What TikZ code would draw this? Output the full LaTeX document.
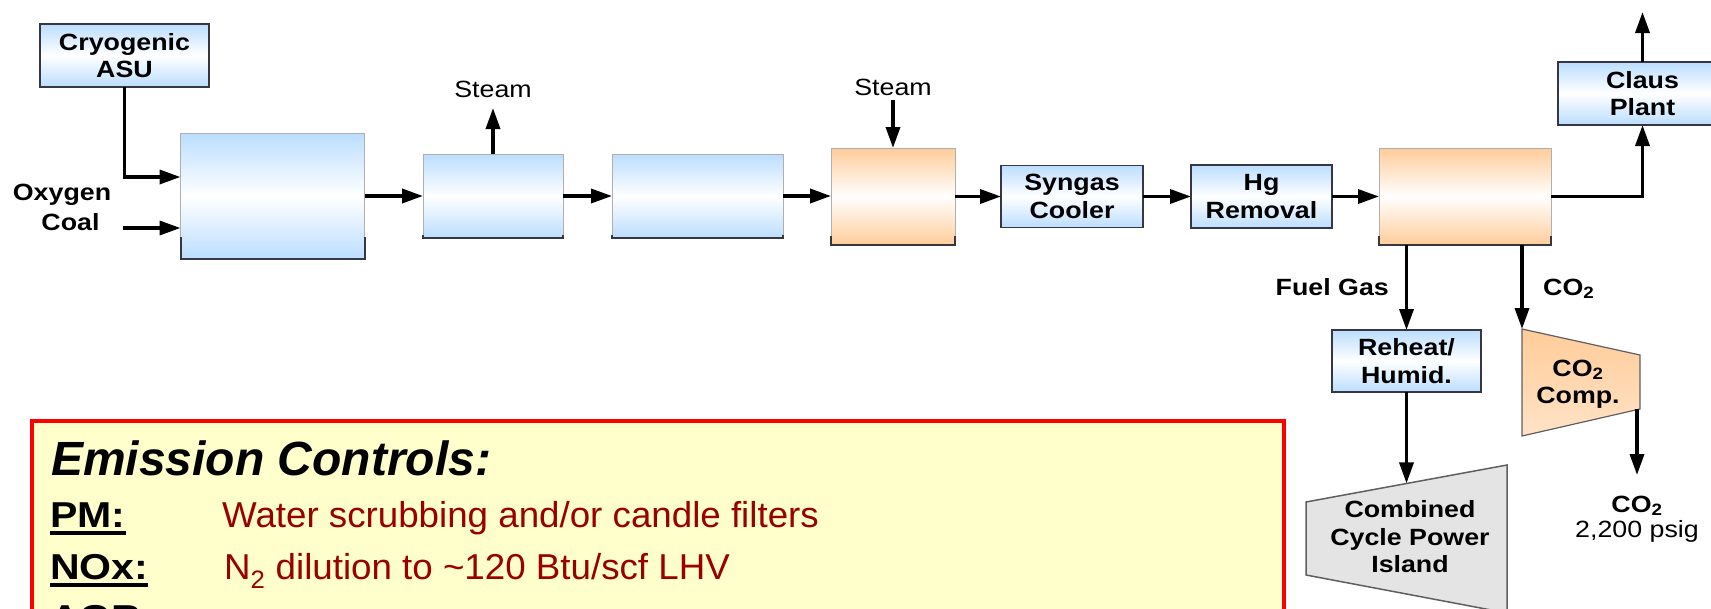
\documentclass[tikz,border=0pt]{standalone}
\usepackage{fontspec}
\newfontfamily\dfont[FakeStretch=1.14]{Liberation Sans}
\newfontfamily\rfont[FakeStretch=1.02]{Liberation Sans}
\newfontfamily\hfont{Liberation Sans}
\usetikzlibrary{arrows.meta}
\definecolor{bluebox}{RGB}{187,221,255}
\definecolor{orangebox}{RGB}{255,204,153}
\definecolor{edgedark}{RGB}{55,55,65}
\definecolor{edgelight}{RGB}{175,175,175}
\definecolor{notefill}{RGB}{255,255,204}
\definecolor{notered}{RGB}{255,0,0}
\definecolor{notetext}{RGB}{153,0,0}
\definecolor{ccgray}{RGB}{228,228,228}
\definecolor{ccedge}{RGB}{95,95,95}
\tikzset{
  lbl/.style={font=\dfont\bfseries\fontsize{23.5}{27.5}\selectfont, align=center, inner sep=0pt},
  plainlbl/.style={font=\dfont\fontsize{23.5}{27.5}\selectfont, align=center, inner sep=0pt},
  bluefill/.style={rectangle, inner sep=0pt, outer sep=0pt, top color=bluebox, bottom color=bluebox, middle color=white},
  orangefill/.style={rectangle, inner sep=0pt, outer sep=0pt, top color=orangebox, bottom color=orangebox, middle color=white},
  framed/.style={draw=edgedark, line width=1.5pt},
  openbox/.style={draw=edgelight, line width=0.8pt},
  shadowline/.style={draw=edgedark, line width=2pt},
  arr/.style={line width=3.5pt, -{Triangle[length=21pt,width=14pt]}},
  notelabel/.style={font=\dfont\bfseries\fontsize{36}{40}\selectfont, inner sep=0pt, anchor=base west},
  notetxt/.style={font=\rfont\fontsize{36}{40}\selectfont, text=notetext, inner sep=0pt, anchor=base west},
}
\begin{document}
\begin{tikzpicture}[x=1pt,y=-1pt]
\useasboundingbox (0,0) rectangle (1711,608);
\clip (0,0) rectangle (1711,608);

% ---------- process boxes ----------
\node[bluefill, framed, minimum width=169pt, minimum height=63pt, lbl] (asu) at (124.5,55.5) {Cryogenic\\ASU};
\node[bluefill, openbox, minimum width=184pt, minimum height=126pt] (gas) at (272.5,196) {};
\draw[shadowline] ([yshift=22pt]gas.south west) -- (gas.south west) -- (gas.south east) -- ([yshift=22pt]gas.south east);
\node[bluefill, openbox, minimum width=140pt, minimum height=84pt] (b2) at (493,196) {};
\draw[shadowline] ([yshift=3pt]b2.south west) -- (b2.south west) -- (b2.south east) -- ([yshift=3pt]b2.south east);
\node[bluefill, openbox, minimum width=171pt, minimum height=84pt] (b3) at (697.5,196) {};
\draw[shadowline] ([yshift=3pt]b3.south west) -- (b3.south west) -- (b3.south east) -- ([yshift=3pt]b3.south east);
\node[orangefill, openbox, minimum width=124pt, minimum height=97pt] (b4) at (893,196.5) {};
\draw[shadowline] ([yshift=9pt]b4.south west) -- (b4.south west) -- (b4.south east) -- ([yshift=9pt]b4.south east);
\node[bluefill, framed, minimum width=142pt, minimum height=62pt, lbl] (syn) at (1072,196.5) {Syngas\\Cooler};
\node[bluefill, framed, minimum width=141pt, minimum height=63pt, lbl] (hg) at (1261.5,196.5) {Hg\\Removal};
\node[orangefill, openbox, minimum width=172pt, minimum height=97pt] (agr) at (1465,196.5) {};
\draw[shadowline] ([yshift=9pt]agr.south west) -- (agr.south west) -- (agr.south east) -- ([yshift=9pt]agr.south east);
\node[bluefill, framed, minimum width=169pt, minimum height=63pt, lbl] (claus) at (1642.5,93.5) {Claus\\Plant};
\node[bluefill, framed, minimum width=149pt, minimum height=62pt, lbl] (reheat) at (1406.5,361) {Reheat/\\Humid.};

% CO2 compressor
\coordinate (c1) at (1522,329);
\coordinate (c2) at (1640,355);
\coordinate (c3) at (1640,409);
\coordinate (c4) at (1522,436);
\draw[draw=ccedge, line width=1.2pt, top color=orangebox, bottom color=orangebox!55] (c1) -- (c2) -- (c3) -- (c4) -- cycle;
\node[lbl] (comp) at (1578,384) {CO\textsubscript{2}\\Comp.};

% combined cycle
\coordinate (k1) at (1306,502);
\coordinate (k2) at (1507,465);
\coordinate (k3) at (1507,613);
\coordinate (k4) at (1306,575);
\draw[draw=ccedge, line width=1.5pt, fill=ccgray] (k1) -- (k2) -- (k3) -- (k4) -- cycle;
\node[lbl] (cc) at (1410,537) {Combined\\Cycle Power\\Island};
\coordinate (cctop) at (1406.5,483.4);

% ---------- labels ----------
\node[lbl, anchor=base] (oxy) at (62,200) {Oxygen};
\node[lbl, anchor=base] (coal) at (70.5,230) {Coal};
\coordinate (coalin) at (123,228);
\node[plainlbl, anchor=base] (steam1) at (493,97) {Steam};
\coordinate (steam1tip) at (493,108);
\node[plainlbl, anchor=base] (steam2) at (893,95) {Steam};
\coordinate (steam2in) at (893,100);
\coordinate (clausout) at (1642.5,12);
\node[lbl, anchor=base east] (fuel) at (1389,295) {Fuel Gas};
\node[lbl, anchor=base west] (co2a) at (1543,295) {CO\textsubscript{2}};
\coordinate (compout) at (1637,409);
\coordinate (co2end) at (1637,475);
\node[lbl, anchor=base] (co2b) at (1637,512) {CO\textsubscript{2}};
\node[plainlbl, anchor=base] (psig) at (1637,537) {2,200 psig};

% ---------- connectors ----------
\draw[arr] (asu.south) |- ([yshift=19pt]gas.west);
\draw[arr] (coalin) -- (coalin -| gas.west);
\draw[arr] (gas.east |- b2.west) -- (b2.west);
\draw[arr] (b2.east) -- (b3.west);
\draw[arr] (b3.east) -- (b3.east -| b4.west);
\draw[arr] (b4.east) -- (b4.east -| syn.west);
\draw[arr] (syn.east) -- (hg.west);
\draw[arr] (hg.east) -- (hg.east -| agr.west);
\draw[arr] (agr.east) -| (claus.south);
\draw[arr] (claus.north) -- (clausout);
\draw[arr] (b2.north) -- (steam1tip);
\draw[arr] (steam2in) -- (b4.north);
\draw[arr] (reheat.north |- agr.south) -- (reheat.north);
\draw[arr] (c1 |- agr.south) -- (c1);
\draw[arr] (reheat.south) -- (cctop);
\draw[arr] (compout) -- (co2end);

% ---------- emission controls note ----------
\node[draw=notered, line width=4pt, fill=notefill, minimum width=1252.5pt, minimum height=240pt, anchor=north west, inner sep=0pt] (note) at (29.5,419) {};
\node[font=\hfont\bfseries\itshape\fontsize{48}{52}\selectfont, inner sep=0pt, anchor=base west] (head) at (51,475) {Emission Controls:};
\node[notelabel] (pm) at (50,527) {PM:};
\draw[line width=4pt] ([yshift=-6pt]pm.base west) -- ([yshift=-6pt]pm.base east);
\node[notetxt] (pmtxt) at (222,527) {Water scrubbing and/or candle filters};
\node[notelabel] (nox) at (50,579) {NOx:};
\draw[line width=4pt] ([yshift=-6pt]nox.base west) -- ([yshift=-6pt]nox.base east);
\node[notetxt] (noxtxt) at (224,579) {N\textsubscript{2} dilution to \textasciitilde120 Btu/scf LHV};
\node[notelabel] (agrlbl) at (50,630) {AGR:};
\end{tikzpicture}
\end{document}
